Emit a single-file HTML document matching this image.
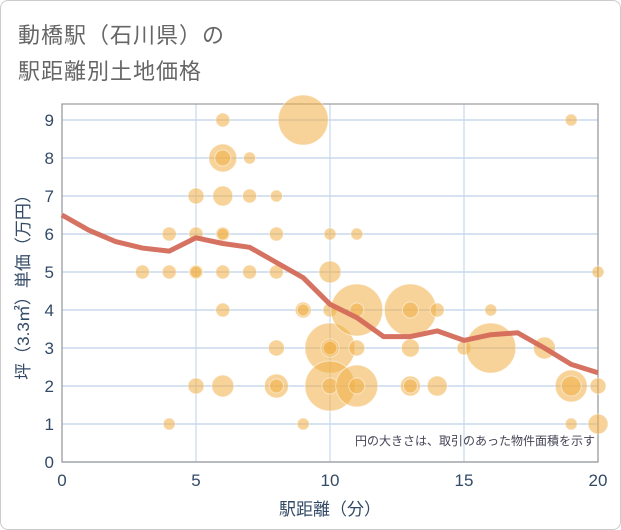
<!DOCTYPE html>
<html><head><meta charset="utf-8"><style>
body{margin:0;background:#fff;}
#wrap{position:relative;width:619px;height:528px;border:1px solid #ccc;border-radius:8px;overflow:hidden;}
.t{position:absolute;left:17px;font:22px "Liberation Sans","Noto Sans CJK JP",sans-serif;color:#666;letter-spacing:1px;}
svg{position:absolute;left:0;top:0;}
</style></head><body>
<div id="wrap">
<div class="t" style="top:17px">動橋駅（石川県）の</div>
<div class="t" style="top:53px">駅距離別土地価格</div>
<svg id="s" width="621" height="530"></svg>
</div>
<script>
const bubbleX=[3,4,4,4,5,5,5,5,5,6,6,6,6,6,6,6,6,6,7,7,7,8,8,8,8,8,8,9,9,9,9,10,10,10,10,10,10,10,10,11,11,11,11,11,11,13,13,13,13,13,14,14,15,16,16,18,19,19,19,19,20,20,20];
const bubbleY=[5,6,5,1,7,6,5,5,2,9,8,8,7,6,6,5,4,2,8,7,5,7,6,5,3,2,2,9,4,4,1,6,5,4,3,3,3,2,2,6,4,4,3,2,2,4,4,3,2,2,4,2,3,4,3,3,9,2,2,1,5,2,1];
const bubbleR=[7,7,7,6,8,7,7,6,8,7,14,8,10,7,6,7,7,11,6,7,7,6,7,7,8,12,7,25,8,6,6,6,11,7,25,9,7,25,8,6,26,7,8,21,8,26,8,9,10,7,7,10,7,6,25,11,6,16,10,6,6,8,10];
const lineX=[0,1,2,3,4,5,6,7,8,9,10,11,12,13,14,15,16,17,18,19,20];
const lineY=[6.5,6.1,5.8,5.63,5.55,5.9,5.75,5.65,5.25,4.85,4.15,3.8,3.3,3.3,3.45,3.2,3.35,3.4,3.0,2.57,2.35];
const xTicks=[0,5,10,15,20];
const yTicks=[0,1,2,3,4,5,6,7,8,9];
const L=61,R=597,T=103,B=461;
const sx=v=>L+(v/20)*(R-L);
const sy=v=>B-(v/9)*(B-119);
const s=document.getElementById('s');
const NS='http://www.w3.org/2000/svg';
function mk(t,a,p){const e=document.createElementNS(NS,t);for(const k in a)e.setAttribute(k,a[k]);(p||s).appendChild(e);return e;}
for(let v=0.5;v<9.6;v+=0.5){if(v%1===0)continue;}
yTicks.forEach(v=>{const g=mk('line',{x1:L,x2:R,y1:sy(v),y2:sy(v),stroke:'#c9d9ea','stroke-width':1.5});

const t=mk('text',{x:L-8,y:sy(v)+6,'text-anchor':'end','font-size':17,fill:'#334a66','font-family':'Liberation Sans, sans-serif'});t.textContent=v;
});
xTicks.forEach(v=>{const g=mk('line',{x1:sx(v),x2:sx(v),y1:T,y2:B,stroke:'#c9d9ea','stroke-width':1.2});

const t=mk('text',{x:sx(v),y:B+24,'text-anchor':'middle','font-size':17,fill:'#334a66','font-family':'Liberation Sans, sans-serif'});t.textContent=v;
});
const fr=mk('rect',{x:L,y:T,width:R-L,height:B-T,fill:'none',stroke:'#999','stroke-width':1.2});

bubbleX.forEach((x,i)=>{const c=mk('circle',{cx:sx(x),cy:sy(bubbleY[i]),r:bubbleR[i],fill:'rgba(240,175,70,0.55)',stroke:'rgba(255,255,255,0.5)','stroke-width':1});
});
const p=mk('polyline',{points:lineX.map((x,i)=>sx(x)+','+sy(lineY[i])).join(' '),fill:'none',stroke:'#d46a58','stroke-width':5,'stroke-linejoin':'round','stroke-opacity':0.95});

const n=mk('text',{x:594,y:444,'text-anchor':'end','font-size':12,fill:'#445','font-family':'Liberation Sans, Noto Sans CJK JP, sans-serif'});n.textContent='円の大きさは、取引のあった物件面積を示す';

const xt=mk('text',{x:329,y:514,'text-anchor':'middle','font-size':17,fill:'#334a66','font-family':'Liberation Sans, Noto Sans CJK JP, sans-serif'});xt.textContent='駅距離（分）';

const yt=mk('text',{x:0,y:0,'text-anchor':'middle','font-size':17,fill:'#334a66','font-family':'Liberation Sans, Noto Sans CJK JP, sans-serif',transform:'translate(28,282) rotate(-90)'});yt.textContent='坪（3.3㎡）単価（万円）';

</script>
</body></html>
